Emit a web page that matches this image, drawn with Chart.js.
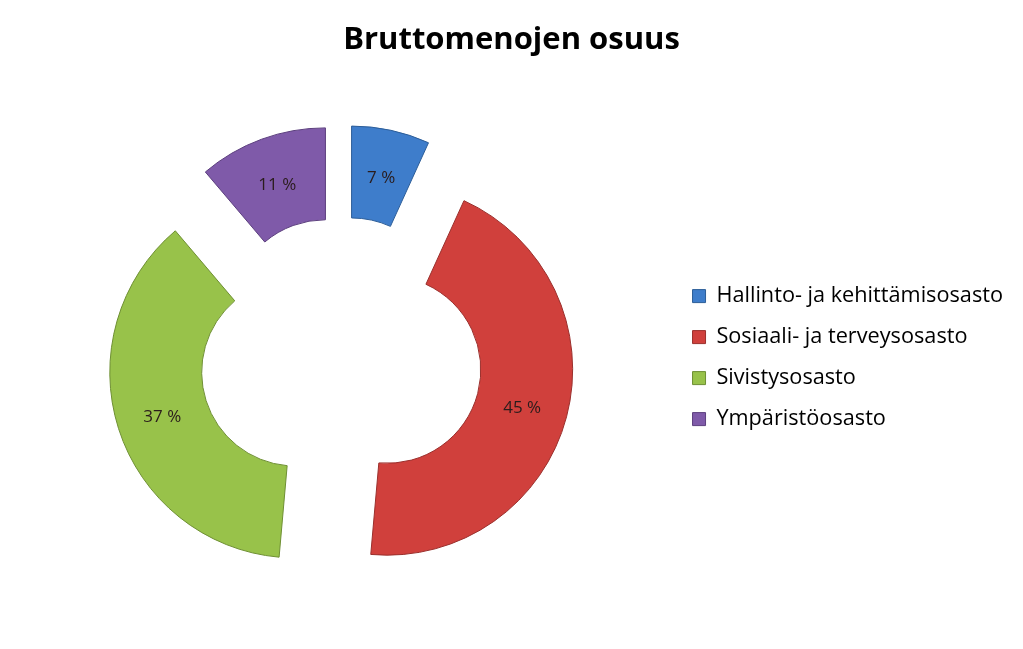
<!DOCTYPE html>
<html>
<head>
<meta charset="utf-8">
<script src="https://cdn.jsdelivr.net/npm/chart.js@4"></script>
<style>
  html, body { margin: 0; padding: 0; background: #fff; }
  #wrap { width: 1023px; height: 649px; }
</style>
</head>
<body>
<div id="wrap"><canvas id="chart"></canvas></div>
<script>
const departments = [
    'Hallinto- ja kehittämisosasto',
    'Sosiaali- ja terveysosasto',
    'Sivistysosasto',
    'Ympäristöosasto'
];
// shares, labels are the rounded ones
const shares = [6.8, 44.6, 37.4, 11.2];
const percentLabels = ['7 %', '45 %', '37 %', '11 %'];

const fills = ['#3e7dcb', '#d0403c', '#98c24a', '#7f5aa9'];
const edges = ['#2c5d98', '#9a2f2c', '#6e8f33', '#5c3f7e'];
// how far each slice is pulled away from the centre, in pixels
const explode = [47, 47, 48.5, 47];

Chart.defaults.font.family = '"Open Sans", sans-serif';

// draws every arc shifted straight out along its middle angle (like an exploded Excel doughnut)
// and writes the percentage in the middle of it
const explodedSlices = {
    id: 'explodedSlices',
    beforeDatasetDraw(chart, args) {
        const { ctx } = chart;
        args.meta.data.forEach((arc, i) => {
            const p = arc.getProps(['startAngle', 'endAngle'], true);
            const mid = (p.startAngle + p.endAngle) / 2;
            ctx.save();
            ctx.translate(Math.cos(mid) * explode[i], Math.sin(mid) * explode[i]);
            arc.draw(ctx);
            ctx.restore();
        });
        return false;
    },
    afterDatasetsDraw(chart) {
        const { ctx } = chart;
        const meta = chart.getDatasetMeta(0);
        ctx.save();
        ctx.font = '17px "Open Sans", sans-serif';
        ctx.fillStyle = '#2a1c1c';
        ctx.textAlign = 'center';
        ctx.textBaseline = 'middle';
        meta.data.forEach((arc, i) => {
            const p = arc.getProps(['x', 'y', 'startAngle', 'endAngle', 'innerRadius', 'outerRadius'], true);
            const mid = (p.startAngle + p.endAngle) / 2;
            const dist = explode[i] + (p.innerRadius + p.outerRadius) / 2;
            ctx.fillText(percentLabels[i], p.x + Math.cos(mid) * dist, p.y + Math.sin(mid) * dist + 3);
        });
        ctx.restore();
    }
};

new Chart(document.getElementById('chart'), {
    type: 'doughnut',
    data: {
        labels: departments,
        datasets: [
            {
                data: shares,
                backgroundColor: fills,
                borderColor: edges,
                borderWidth: 1,
                hoverOffset: 0
            }
        ]
    },
    options: {
        responsive: true,
        maintainAspectRatio: false,
        animation: false,
        events: [],
        radius: 185.6,
        cutout: '50.5%',
        layout: {
            padding: { top: 0, bottom: 3, left: 10, right: 10 }
        },
        plugins: {
            title: {
                display: true,
                text: 'Bruttomenojen osuus',
                color: '#000',
                font: { size: 31, weight: 'bold', lineHeight: 1.2 },
                padding: { top: 22, bottom: 10 }
            },
            legend: {
                position: 'right',
                fullSize: false,
                labels: {
                    color: '#000',
                    boxWidth: 13,
                    boxHeight: 13,
                    padding: 19.3,
                    font: { size: 21.7 }
                }
            },
            tooltip: { enabled: false }
        }
    },
    plugins: [explodedSlices]
});
</script>
</body>
</html>
